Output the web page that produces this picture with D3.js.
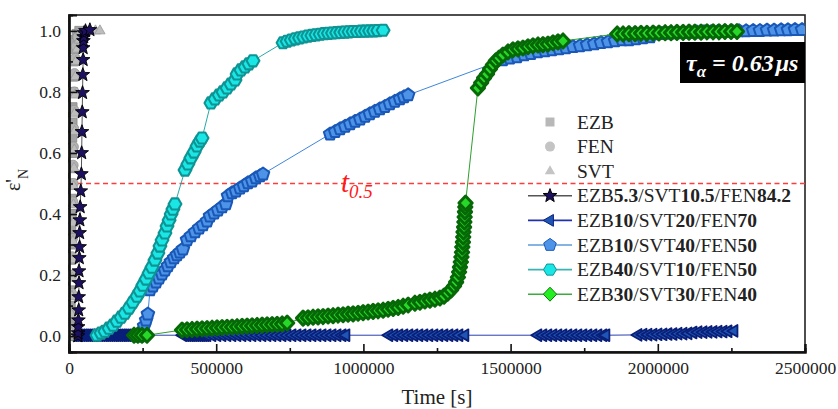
<!DOCTYPE html>
<html><head><meta charset="utf-8">
<script src="https://cdn.jsdelivr.net/npm/d3@7"></script>
<style>
body{margin:0;background:#fff}
svg{display:block}
text{font-family:"Liberation Serif","Times New Roman",serif}
</style>
</head><body>
<svg id="c" width="838" height="409"></svg>
<script>
// ---------------- DATA ----------------
const xTicks = [0, 500000, 1000000, 1500000, 2000000, 2500000];
const xMinor = [250000, 750000, 1250000, 1750000, 2250000];
const yTicks = [0.0, 0.2, 0.4, 0.6, 0.8, 1.0];
const yMinor = [0.1, 0.3, 0.5, 0.7, 0.9];
const halfLevel = 0.5;

// gray pure components [time s, eps'N]
const ezbData = [[4e3,0.0],[5e3,0.05],[6e3,0.10],[6e3,0.15],[7e3,0.20],[7e3,0.25],[8e3,0.30],[8e3,0.35],[9e3,0.40],[9e3,0.45],[10e3,0.50],[10e3,0.55],[11e3,0.60],[11e3,0.65],[12e3,0.70],[12e3,0.75],[13e3,0.80],[14e3,0.85],[15e3,0.90],[17e3,0.94],[20e3,0.97],[26e3,0.99],[35e3,1.0]];
const fenData = [[7e3,0.02],[8e3,0.08],[9e3,0.14],[10e3,0.20],[11e3,0.26],[12e3,0.32],[12e3,0.38],[13e3,0.44],[14e3,0.50],[14e3,0.56],[15e3,0.62],[16e3,0.68],[17e3,0.74],[18e3,0.80],[19e3,0.86],[21e3,0.91],[24e3,0.95],[30e3,0.98],[40e3,0.995],[55e3,1.0]];
const svtData = [[8e3,0.01],[9e3,0.07],[10e3,0.13],[11e3,0.19],[12e3,0.25],[13e3,0.31],[14e3,0.37],[15e3,0.43],[16e3,0.49],[17e3,0.55],[18e3,0.61],[19e3,0.67],[20e3,0.73],[21e3,0.79],[22e3,0.85],[24e3,0.90],[28e3,0.94],[35e3,0.97],[50e3,0.99],[70e3,1.0],[90e3,1.0],[105e3,1.0]];

// EZB5.3/SVT10.5/FEN84.2 (stars)
const starData = [[30e3,0.0],[31e3,0.010],[31e3,0.030],[32e3,0.052],[33e3,0.085],[33e3,0.128],[34e3,0.174],[34e3,0.213],[35e3,0.256],[36e3,0.292],[36e3,0.338],[37e3,0.380],[38e3,0.423],[40e3,0.475],[42e3,0.531],[43e3,0.600],[44e3,0.669],[45e3,0.734],[46e3,0.797],[47e3,0.856],[48e3,0.905],[48e3,0.944],[49e3,0.967],[50e3,0.980],[51e3,0.993],[56e3,1.0],[71e3,1.003]];

// EZB10/SVT20/FEN70 (left triangles)
const triData = [
[7e3,0.003],[14e3,0.003],[20e3,0.003],[27e3,0.003],[34e3,0.003],[41e3,0.003],[48e3,0.003],[54e3,0.003],[61e3,0.003],[68e3,0.003],[75e3,0.003],[82e3,0.003],[88e3,0.003],[95e3,0.003],[102e3,0.003],[109e3,0.003],[116e3,0.003],[122e3,0.003],[129e3,0.003],[136e3,0.003],[143e3,0.003],[150e3,0.003],[156e3,0.003],[163e3,0.003],[170e3,0.003],[177e3,0.003],[183e3,0.003],[190e3,0.003],[197e3,0.003],[204e3,0.003],[211e3,0.003],
[387e3,0.003],[394e3,0.003],[401e3,0.003],[408e3,0.003],[414e3,0.003],[421e3,0.003],[428e3,0.003],[435e3,0.003],[442e3,0.003],[448e3,0.003],[455e3,0.003],[462e3,0.003],[469e3,0.003],[486e3,0.003],[503e3,0.003],[520e3,0.003],[537e3,0.003],[554e3,0.003],[571e3,0.003],[588e3,0.003],[605e3,0.003],[622e3,0.003],[639e3,0.003],[656e3,0.003],[673e3,0.003],[690e3,0.003],[707e3,0.003],[724e3,0.003],[741e3,0.003],[758e3,0.003],[775e3,0.003],[792e3,0.003],[809e3,0.003],[826e3,0.003],[843e3,0.003],[860e3,0.003],[877e3,0.003],[894e3,0.003],[911e3,0.003],[928e3,0.003],[941e3,0.003],
[1087e3,0.003],[1104e3,0.003],[1121e3,0.003],[1138e3,0.003],[1155e3,0.003],[1172e3,0.003],[1189e3,0.003],[1206e3,0.003],[1223e3,0.003],[1240e3,0.003],[1257e3,0.003],[1274e3,0.003],[1291e3,0.003],[1308e3,0.003],[1325e3,0.003],[1345e3,0.003],
[1593e3,0.003],[1610e3,0.003],[1627e3,0.003],[1644e3,0.003],[1661e3,0.003],[1678e3,0.003],[1695e3,0.003],[1712e3,0.003],[1729e3,0.003],[1746e3,0.003],[1763e3,0.003],[1780e3,0.003],[1797e3,0.003],[1814e3,0.003],[1824e3,0.003],
[1933e3,0.004],[1950e3,0.005],[1967e3,0.005],[1984e3,0.005],[2001e3,0.006],[2018e3,0.006],[2035e3,0.007],[2052e3,0.007],[2069e3,0.008],[2086e3,0.008],[2103e3,0.009],[2120e3,0.012],[2137e3,0.013],[2154e3,0.013],[2171e3,0.014],[2188e3,0.014],[2205e3,0.015],[2222e3,0.015],[2239e3,0.016],[2259e3,0.017]];

// EZB10/SVT40/FEN50 (pentagons)
const pentData = [
[241e3,0.0],[248e3,0.016],[255e3,0.033],[262e3,0.052],[268e3,0.072],
[275e3,0.151],[285e3,0.164],[296e3,0.177],[306e3,0.190],[316e3,0.203],[326e3,0.216],[336e3,0.230],[346e3,0.243],[357e3,0.256],[367e3,0.266],[377e3,0.275],[387e3,0.285],
[401e3,0.315],[414e3,0.328],[428e3,0.341],[442e3,0.354],[455e3,0.364],[469e3,0.377],
[479e3,0.393],[493e3,0.403],[506e3,0.413],[520e3,0.423],[533e3,0.433],
[540e3,0.459],[554e3,0.469],[567e3,0.475],[581e3,0.485],[594e3,0.492],[608e3,0.502],[622e3,0.508],[635e3,0.518],[649e3,0.525],[659e3,0.531],
[887e3,0.662],[904e3,0.670],[921e3,0.679],[938e3,0.687],[955e3,0.695],[972e3,0.703],[989e3,0.711],[1006e3,0.720],[1022e3,0.728],[1039e3,0.736],[1056e3,0.744],[1073e3,0.752],[1090e3,0.761],[1107e3,0.769],[1124e3,0.777],[1138e3,0.784],[1152e3,0.790],
[1474e3,0.905],[1498e3,0.911],[1522e3,0.915],[1546e3,0.921],[1569e3,0.925],[1593e3,0.931],[1617e3,0.934],[1641e3,0.938],[1665e3,0.941],[1688e3,0.944],[1712e3,0.948],[1736e3,0.951],[1760e3,0.954],[1784e3,0.957],[1807e3,0.961],[1831e3,0.964],[1855e3,0.967],[1879e3,0.970],[1902e3,0.970],[1926e3,0.974],[1950e3,0.977],[1974e3,0.980],
[1991e3,0.990],[2014e3,0.991],[2038e3,0.992],[2062e3,0.993],[2086e3,0.994],[2110e3,0.995],[2133e3,0.996],[2157e3,0.997],[2181e3,0.997],[2205e3,0.998],[2228e3,0.999],[2252e3,0.999],[2276e3,1.0],[2300e3,1.0],[2324e3,1.001],[2347e3,1.001],[2371e3,1.002],[2395e3,1.002],[2419e3,1.003],[2442e3,1.003],[2466e3,1.004],[2490e3,1.004]];

// EZB40/SVT10/FEN50 (hexagons)
const cyanData = [
[95e3,0.003],[109e3,0.010],[122e3,0.016],[136e3,0.026],[150e3,0.036],[163e3,0.049],[177e3,0.062],[190e3,0.075],[204e3,0.092],[217e3,0.111],[231e3,0.131],[241e3,0.148],[251e3,0.167],[262e3,0.187],[272e3,0.207],[282e3,0.226],[292e3,0.249],[302e3,0.272],[309e3,0.295],[316e3,0.315],[326e3,0.338],[333e3,0.361],[340e3,0.380],[347e3,0.400],[353e3,0.416],[360e3,0.433],
[394e3,0.544],[404e3,0.564],[414e3,0.584],[425e3,0.603],[435e3,0.623],[445e3,0.639],[452e3,0.649],
[482e3,0.764],[496e3,0.777],[510e3,0.790],[523e3,0.800],[537e3,0.813],[550e3,0.826],[564e3,0.839],
[571e3,0.859],[584e3,0.872],[598e3,0.882],[611e3,0.892],[625e3,0.902],
[727e3,0.961],[741e3,0.966],[755e3,0.970],[769e3,0.974],[783e3,0.977],[797e3,0.980],[811e3,0.983],[825e3,0.985],[839e3,0.987],[853e3,0.989],[867e3,0.991],[881e3,0.992],[895e3,0.993],[909e3,0.994],[923e3,0.995],[937e3,0.996],[951e3,0.997],[965e3,0.998],[979e3,0.998],[993e3,0.999],[1007e3,0.999],[1021e3,1.0],[1035e3,1.0],[1049e3,1.001],[1067e3,1.002]];

// EZB30/SVT30/FEN40 (diamonds)
const greenData = [
[221e3,0.003],[234e3,0.003],[248e3,0.003],[265e3,0.003],
[384e3,0.020],[401e3,0.021],[418e3,0.022],[435e3,0.023],[452e3,0.024],[469e3,0.025],[486e3,0.026],[503e3,0.027],[520e3,0.028],[537e3,0.029],[554e3,0.030],[571e3,0.031],[588e3,0.032],[605e3,0.033],[622e3,0.034],[639e3,0.035],[656e3,0.036],[673e3,0.037],[690e3,0.038],[707e3,0.039],[724e3,0.040],[741e3,0.043],
[795e3,0.059],[812e3,0.060],[829e3,0.062],[846e3,0.063],[863e3,0.064],[880e3,0.066],[897e3,0.067],[914e3,0.069],[931e3,0.070],[948e3,0.072],[965e3,0.073],[982e3,0.075],[999e3,0.077],[1016e3,0.079],[1033e3,0.081],[1050e3,0.083],[1067e3,0.085],[1084e3,0.088],[1101e3,0.091],[1118e3,0.094],[1135e3,0.098],[1152e3,0.102],
[1175e3,0.108],[1192e3,0.111],[1209e3,0.115],[1226e3,0.118],[1243e3,0.121],[1260e3,0.125],[1274e3,0.131],[1287e3,0.141],[1298e3,0.151],[1308e3,0.164],[1315e3,0.177],[1321e3,0.193],[1325e3,0.210],[1328e3,0.226],[1331e3,0.243],[1333e3,0.259],[1335e3,0.275],[1336e3,0.292],[1338e3,0.308],[1339e3,0.325],[1340e3,0.341],[1342e3,0.357],[1343e3,0.374],[1344e3,0.390],[1345e3,0.407],[1346e3,0.423],[1347e3,0.436],
[1389e3,0.813],[1400e3,0.830],[1410e3,0.846],[1420e3,0.859],[1430e3,0.875],[1440e3,0.889],[1450e3,0.902],[1461e3,0.911],[1474e3,0.921],[1491e3,0.931],[1508e3,0.938],[1525e3,0.941],[1542e3,0.944],[1559e3,0.948],[1576e3,0.951],[1593e3,0.954],[1610e3,0.955],[1627e3,0.957],[1644e3,0.961],[1661e3,0.964],[1678e3,0.967],
[1862e3,0.990],[1882e3,0.990],[1902e3,0.991],[1923e3,0.991],[1943e3,0.992],[1963e3,0.992],[1984e3,0.993],[2004e3,0.993],[2025e3,0.994],[2045e3,0.994],[2065e3,0.995],[2086e3,0.995],[2106e3,0.996],[2126e3,0.996],[2147e3,0.996],[2167e3,0.997],[2188e3,0.997],[2208e3,0.997],[2228e3,0.998],[2249e3,0.998],[2269e3,0.998]];

// ---------------- STYLE / SERIES ----------------
const series = [
  {key:"tri",  data:triData,   shape:"triLeft", r:6.8, fill:"#1f55b5", stroke:"#0a1f78", sw:1.8, line:"#2b3fb0"},
  {key:"pent", data:pentData,  shape:"pentagon",r:6.6, fill:"#4d94e8", stroke:"#1a58b8", sw:2.0, line:"#3f86d9"},
  {key:"cyan", data:cyanData,  shape:"hexagon", r:6.4, fill:"#1ae6e6", stroke:"#0f9494", sw:2.1, line:"#2aa9a9"},
  {key:"grn",  data:greenData, shape:"diamond", r:7.0, fill:"#28d828", stroke:"#066806", sw:3.0, line:"#2ca02c"},
  {key:"ezb",  data:ezbData,   shape:"square",  r:4.5, fill:"#a3a3a3", stroke:"#888888", sw:0.8, line:null},
  {key:"fen",  data:fenData,   shape:"circle",  r:5,   fill:"#b3b3b3", stroke:"#939393", sw:0.8, line:null},
  {key:"svt",  data:svtData,   shape:"triUp",   r:6,   fill:"#bdbdbd", stroke:"#9a9a9a", sw:0.8, line:null},
  {key:"star", data:starData,  shape:"star",    r:7.2, fill:"#1c1060", stroke:"#000000", sw:0.9, line:"#555555"}
];

const legendEntries = [
  {ref:"ezb",  parts:[["EZB",0]], noLine:true},
  {ref:"fen",  parts:[["FEN",0]], noLine:true},
  {ref:"svt",  parts:[["SVT",0]], noLine:true},
  {ref:"star", parts:[["EZB",0],["5.3",1],["/SVT",0],["10.5",1],["/FEN",0],["84.2",1]]},
  {ref:"tri",  parts:[["EZB",0],["10",1],["/SVT",0],["20",1],["/FEN",0],["70",1]]},
  {ref:"pent", parts:[["EZB",0],["10",1],["/SVT",0],["40",1],["/FEN",0],["50",1]]},
  {ref:"cyan", parts:[["EZB",0],["40",1],["/SVT",0],["10",1],["/FEN",0],["50",1]]},
  {ref:"grn",  parts:[["EZB",0],["30",1],["/SVT",0],["30",1],["/FEN",0],["40",1]]}
];
const legendLineColors = {star:"#555555", tri:"#2233aa", pent:"#5b9bd5", cyan:"#3cb3b3", grn:"#3caa3c"};
const legendFill = {ezb:"#b8b8b8", fen:"#c4c4c4", svt:"#c4c4c4", star:"#1c1060", tri:"#1f55b5", pent:"#4d94e8", cyan:"#1ae6e6", grn:"#22ee22"};
const legendStroke = {star:"#000000", tri:"#0a1f78", pent:"#1a58b8", cyan:"#0f9494", grn:"#0a7a0a"};

// ---------------- CHART ----------------
const L = 69, R = 805, T = 15, B = 352;
const svg = d3.select("#c");
const x = d3.scaleLinear().domain([0, 2500000]).range([L, R]);
const y = d3.scaleLinear().domain([-0.052, 1.052]).range([B, T]);

function shapePath(kind, r){
  const p = d3.path();
  const poly = (n, a0, rr) => {
    for (let i=0;i<n;i++){ const a=a0+i*2*Math.PI/n; const px=rr*Math.cos(a), py=rr*Math.sin(a); i?p.lineTo(px,py):p.moveTo(px,py);} p.closePath();
  };
  switch(kind){
    case "square": p.rect(-r,-r,2*r,2*r); break;
    case "circle": p.arc(0,0,r,0,2*Math.PI); break;
    case "triUp": poly(3,-Math.PI/2,r); break;
    case "triLeft": poly(3,Math.PI,r); break;
    case "pentagon": poly(5,-Math.PI/2,r); break;
    case "hexagon": poly(6,0,r); break;
    case "diamond": p.moveTo(0,-r);p.lineTo(r*0.95,0);p.lineTo(0,r);p.lineTo(-r*0.95,0);p.closePath(); break;
    case "star": {
      for (let i=0;i<10;i++){ const a=-Math.PI/2+i*Math.PI/5; const rr=i%2?r*0.42:r; const px=rr*Math.cos(a),py=rr*Math.sin(a); i?p.lineTo(px,py):p.moveTo(px,py);} p.closePath(); break;
    }
  }
  return p.toString();
}

svg.append("defs").append("clipPath").attr("id","clip")
  .append("rect").attr("x",L-1).attr("y",T).attr("width",R-L+1).attr("height",B-T);

// frame
svg.append("rect").attr("x",L).attr("y",T).attr("width",R-L).attr("height",B-T)
  .attr("fill","none").attr("stroke","#222").attr("stroke-width",1.6);

// half-level dashed line
svg.append("line").attr("x1",L).attr("x2",R).attr("y1",y(halfLevel)).attr("y2",y(halfLevel))
  .style("stroke","#ff3b3b").attr("stroke-width",1.3).attr("stroke-dasharray","5,3.5");

const plot = svg.append("g").attr("clip-path","url(#clip)");
const lineGen = d3.line().x(d=>x(d[0])).y(d=>y(d[1]));

series.forEach(s=>{
  const g = plot.append("g");
  if (s.line) g.append("path").attr("d",lineGen(s.data)).attr("fill","none").attr("stroke",s.line).attr("stroke-width",1);
  g.selectAll("path.m").data(s.data).join("path").attr("class","m")
    .attr("transform",d=>`translate(${x(d[0])},${y(d[1])})`)
    .attr("d",shapePath(s.shape,s.r))
    .attr("fill",s.fill).attr("stroke",s.stroke).attr("stroke-width",s.sw).attr("stroke-linejoin","round");
});

// axes
svg.append("g").attr("transform",`translate(0,${B})`)
  .call(d3.axisBottom(x).tickValues(xTicks).tickSize(-8).tickPadding(10).tickFormat(d3.format("d")));
svg.append("g").attr("transform",`translate(0,${B})`)
  .call(d3.axisBottom(x).tickValues(xMinor).tickSize(-4).tickFormat(""));
svg.append("g").attr("transform",`translate(${L},0)`)
  .call(d3.axisLeft(y).tickValues(yTicks).tickSize(-8).tickPadding(8).tickFormat(d3.format(".1f")));
svg.append("g").attr("transform",`translate(${L},0)`)
  .call(d3.axisLeft(y).tickValues(yMinor).tickSize(-4).tickFormat(""));
svg.selectAll(".domain").attr("stroke","#111").attr("stroke-width",2.2);
svg.selectAll(".tick line").attr("stroke","#111").attr("stroke-width",1.6);
svg.selectAll(".tick text").attr("font-family","Liberation Serif, serif").attr("font-size",17.5).attr("fill","#222");

// axis titles
svg.append("text").attr("x",437).attr("y",404).attr("text-anchor","middle")
  .attr("font-size",21).attr("fill","#222").text("Time [s]");
const yl = svg.append("text").attr("transform","translate(20,180) rotate(-90)")
  .attr("text-anchor","middle").attr("font-size",20).attr("fill","#222");
yl.append("tspan").text("ε'");
yl.append("tspan").attr("font-size",14).attr("dy",8).text("N");

// t0.5 label
const tl = svg.append("text").attr("x",341).attr("y",192).attr("fill","#ff1a1a").attr("font-style","italic");
tl.append("tspan").attr("font-size",29).text("t");
tl.append("tspan").attr("font-size",19).attr("dy",6).text("0.5");

// tau box
svg.append("rect").attr("x",680).attr("y",42).attr("width",R-680).attr("height",41).attr("fill","#000");
const tau = svg.append("text").attr("x",686).attr("y",71).attr("fill","#fff")
  .attr("font-style","italic").attr("font-weight","bold");
tau.append("tspan").attr("font-size",24).text("τ");
tau.append("tspan").attr("font-size",17).attr("dy",6).text("α");
tau.append("tspan").attr("font-size",24).attr("dy",-6).text(" = 0.63");
tau.append("tspan").attr("font-size",24).attr("dx",2).text("μs");

// legend
const legX = 550, legY0 = 122, legDy = 24.6;
const byKey = Object.fromEntries(series.map(s=>[s.key,s]));
legendEntries.forEach((e,i)=>{
  const s = byKey[e.ref];
  const cy = legY0 + i*legDy;
  const g = svg.append("g");
  if (!e.noLine) g.append("line").attr("x1",legX-22).attr("x2",legX+22).attr("y1",cy).attr("y2",cy)
      .attr("stroke",legendLineColors[e.ref]).attr("stroke-width",1.6);
  g.append("path").attr("transform",`translate(${legX},${cy})`).attr("d",shapePath(s.shape, s.r))
    .attr("fill", legendFill[e.ref]).attr("stroke", e.noLine ? "none" : legendStroke[e.ref]).attr("stroke-width",1);
  const t = g.append("text").attr("x",legX+27).attr("y",cy+6.5).attr("font-size",19.5).attr("fill","#222");
  e.parts.forEach(p=>t.append("tspan").attr("font-weight",p[1]?"bold":"normal").text(p[0]));
});
</script>
</body></html>
